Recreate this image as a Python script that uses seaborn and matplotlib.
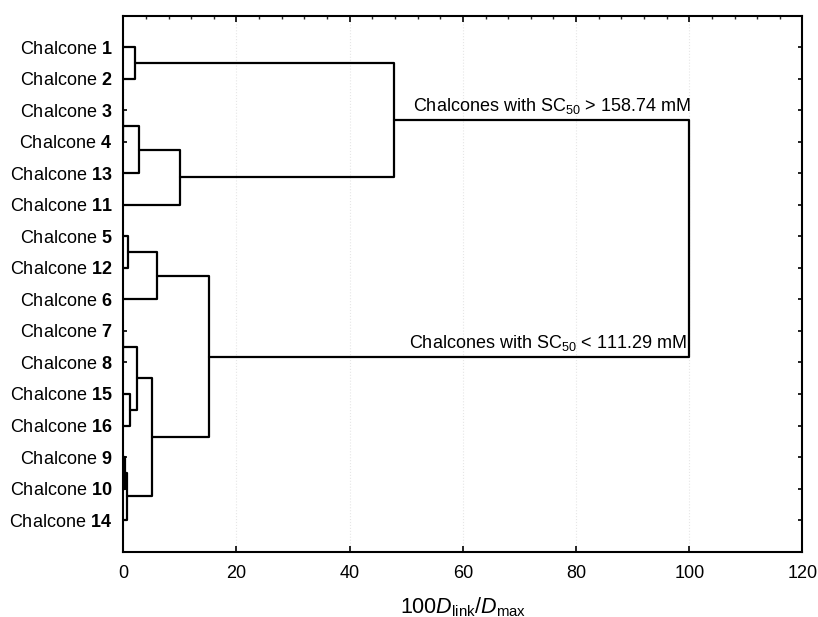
import numpy as np
import pandas as pd
import matplotlib
matplotlib.use('Agg')
from matplotlib import pyplot as plt
from matplotlib.ticker import MultipleLocator
import seaborn as sns

# leaf order, top to bottom
leaves = ['1', '2', '3', '4', '13', '11', '5', '12', '6',
          '7', '8', '15', '16', '9', '10', '14']

# merges: children are leaf labels or earlier node names, height in 100*Dlink/Dmax
node_names = ['A', 'B', 'C', 'D', 'E', 'F', 'G', 'H', 'I', 'J', 'K', 'L', 'M', 'N', 'O']
link_left = ['1', '3', 'B', 'C', 'A', '5', 'F', '7', '15', 'H', '9', 'K', 'J', 'G', 'E']
link_right = ['2', '4', '13', '11', 'D', '12', '6', '8', '16', 'I', '10', '14', 'L', 'M', 'N']
link_height = [2.1, 0.0, 2.7, 10.1, 47.8, 0.8, 6.0, 0.0, 1.2, 2.4, 0.3, 0.6, 5.1, 15.1, 100.0]

label_hi = 'Chalcones with SC$_{50}$ > 158.74 mM'
label_lo = 'Chalcones with SC$_{50}$ < 111.29 mM'

# node coordinates
pos = {lab: (0.0, float(i)) for i, lab in enumerate(leaves)}
rows = []
for k, (name, l, r, h) in enumerate(zip(node_names, link_left, link_right, link_height)):
    xl, yl = pos[l]
    xr, yr = pos[r]
    for px, py in [(xl, yl), (h, yl), (h, yr), (xr, yr)]:
        rows.append({'link': k, 'x': px, 'y': py})
    pos[name] = (h, (yl + yr) / 2)
seg = pd.DataFrame(rows)

sns.set_theme(style='white')
plt.rcParams['font.family'] = ['Liberation Sans', 'DejaVu Sans']
plt.rcParams['text.color'] = 'black'
plt.rcParams['axes.labelcolor'] = 'black'
plt.rcParams['mathtext.fontset'] = 'custom'
plt.rcParams['mathtext.rm'] = 'Liberation Sans'
plt.rcParams['mathtext.it'] = 'Liberation Sans:italic'
plt.rcParams['mathtext.bf'] = 'Liberation Sans:bold'

fig = plt.figure(figsize=(8.18, 6.17), dpi=100)
ax = fig.add_axes([0.1507, 0.106, 0.8303, 0.8685])

sns.lineplot(data=seg, x='x', y='y', units='link', estimator=None, sort=False,
             color='black', linewidth=1.6, ax=ax, legend=False)

ax.set_xlim(0, 120)
ax.set_ylim(16, -1)
ax.set_yticks(range(len(leaves)))
ax.set_yticklabels(['Chalcone $\\mathbf{%s}$' % s for s in leaves], fontsize=13)
ax.xaxis.set_major_locator(MultipleLocator(20))
ax.xaxis.set_minor_locator(MultipleLocator(4))
ax.tick_params(axis='x', which='major', direction='in', length=4, width=1.2,
               top=True, bottom=True, labelsize=13, pad=10, colors='black')
ax.tick_params(axis='x', which='minor', direction='in', length=2.5, width=1,
               top=True, bottom=False)
ax.tick_params(axis='y', direction='in', length=3, width=1.2, left=True, right=True,
               pad=8, colors='black')

ax.grid(axis='x', which='major', color='#e6e6e6', linestyle=':', linewidth=0.8)
for sp in ax.spines.values():
    sp.set_color('black')
    sp.set_linewidth(1.5)

ax.set_xlabel('100$D_{\\mathrm{link}}/D_{\\mathrm{max}}$', fontsize=15.5, labelpad=9)
ax.set_ylabel('')

xe, ye = pos['E']
xn, yn = pos['N']
xo = link_height[-1]
ax.annotate(label_hi, xy=(xo, ye), xytext=(1, 6.5), textcoords='offset points',
            ha='right', va='baseline', fontsize=13)
ax.annotate(label_lo, xy=(xo, yn), xytext=(-2, 6.5), textcoords='offset points',
            ha='right', va='baseline', fontsize=13)

fig.savefig('out.png', dpi=100)
